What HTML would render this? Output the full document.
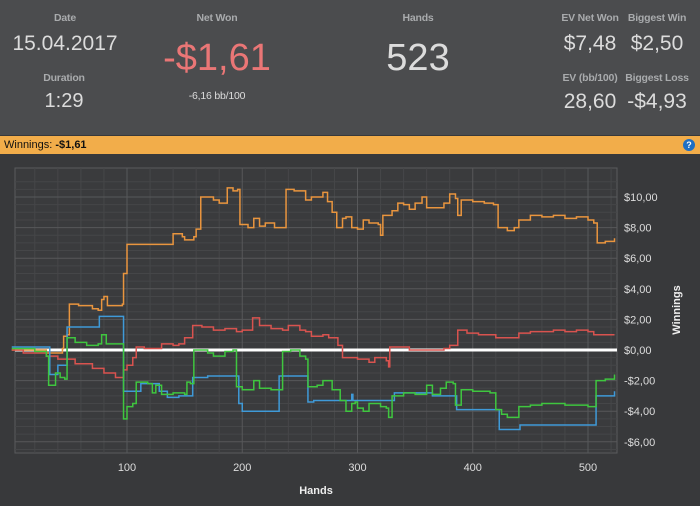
<!DOCTYPE html>
<html><head><meta charset="utf-8"><style>
body{margin:0;width:700px;height:506px;background:#38393b;font-family:"Liberation Sans",sans-serif;overflow:hidden;position:relative}
#hdr{position:absolute;left:0;top:0;width:700px;height:135px;background:#4b4c4e}
.l{position:absolute;color:#a9abad;font-size:10.5px;font-weight:bold;transform:translateX(-50%);white-space:nowrap;letter-spacing:-0.2px}
.v{position:absolute;color:#dcdcdc;font-size:21px;transform:translateX(-50%);white-space:nowrap}
#bar{position:absolute;left:0;top:136px;width:700px;height:18px;background:#f2ad4a;font-size:11px;color:#111;line-height:18px}
</style></head><body>
<div id="hdr">
<div class="l" style="left:65px;top:12px">Date</div>
<div class="v" style="left:65px;top:32px">15.04.2017</div>
<div class="l" style="left:64px;top:72px">Duration</div>
<div class="v" style="left:64px;top:90px;font-size:20px">1:29</div>
<div class="l" style="left:217px;top:12px">Net Won</div>
<div class="v" style="left:217px;top:37px;font-size:38px;color:#ea7676">-$1,61</div>
<div class="l" style="left:217px;top:90px;font-weight:normal;color:#ddd">-6,16 bb/100</div>
<div class="l" style="left:418px;top:12px">Hands</div>
<div class="v" style="left:418px;top:37px;font-size:38px">523</div>
<div class="l" style="left:590px;top:12px">EV Net Won</div>
<div class="v" style="left:590px;top:32px">$7,48</div>
<div class="l" style="left:657px;top:12px">Biggest Win</div>
<div class="v" style="left:657px;top:32px">$2,50</div>
<div class="l" style="left:590px;top:72px">EV (bb/100)</div>
<div class="v" style="left:590px;top:90px">28,60</div>
<div class="l" style="left:657px;top:72px">Biggest Loss</div>
<div class="v" style="left:657px;top:90px">-$4,93</div>
</div>
<div id="bar"><span style="margin-left:4px">Winnings: <b>-$1,61</b></span>
<span style="position:absolute;right:5px;top:3px;width:12px;height:12px;border-radius:50%;background:#1f6fc4;color:#fff;font-size:9px;line-height:12px;text-align:center;font-weight:bold">?</span></div>
<svg id="chart" width="700" height="506" style="position:absolute;left:0;top:0"></svg>
<script>
const orangeH=[0,30,44,45,48,50,58,70,75,78,80,83,96,97,100,140,148,150,158,160,164,175,180,187,192,196,198,205,210,215,220,228,236,238,245,255,260,270,274,278,282,287,290,295,300,305,310,318,320,322,330,335,340,345,350,356,360,370,375,380,385,387,390,400,410,418,422,430,436,440,450,460,470,480,490,500,505,508,515,523];
const orangeV=[0,-0.2,0.1,0.9,1,3.0,2.9,2.7,2.6,3.3,3.5,2.9,3.0,5,6.9,7.6,7.4,7.2,7.4,7.9,10,9.8,9.6,10.6,10.4,10.5,8.2,8.0,8.6,8.1,8.3,8.0,8.0,10.5,10.4,9.8,10.0,10.3,9.7,9.0,8.0,8.6,8.7,8.0,7.9,8.5,8.3,8.2,7.5,8.8,9.1,9.6,9.5,9.2,9.6,10.0,9.3,9.3,9.6,10.2,9.9,8.8,9.8,9.7,9.6,9.5,8.0,7.8,8.0,8.5,8.8,8.7,8.8,8.6,8.7,8.5,8.3,7.0,7.1,7.3];
const redH=[0,10,30,40,55,70,80,90,96,97,100,105,108,115,125,130,140,145,150,157,165,175,185,195,200,207,209,215,225,235,240,250,255,260,270,275,283,287,295,300,310,315,325,327,328,335,345,355,365,375,380,387,395,405,415,420,430,440,450,460,470,480,490,500,505,515,523];
const redV=[0,-0.2,-0.4,-0.6,-0.9,-1.2,-1.5,-1.8,-1.8,-1.3,-1.0,-0.5,0.2,0.1,0.1,0.4,0.3,0.4,0.8,1.6,1.5,1.3,1.4,1.2,1.3,1.3,2.1,1.6,1.4,1.3,1.6,1.3,1.2,0.9,1.0,0.8,0.3,-0.5,-0.5,-0.6,-0.8,-0.5,-0.7,-1.1,0.2,0.2,0.0,0.0,0.0,0.1,0.3,1.3,1.1,1.0,1.0,0.8,0.8,1.1,1.2,1.2,1.3,1.2,1.3,1.2,1.0,1.0,1.0];
const blueH=[0,30,33,40,48,76,96,97,110,112,120,128,135,145,155,157,170,195,197,200,230,232,255,257,262,290,295,296,330,332,362,365,385,386,420,423,440,441,505,507,520,523];
const blueV=[0.2,0.2,-1.6,-1.0,1.5,2.2,2.2,-2.7,-2.7,-2.2,-2.2,-2.7,-3.1,-3.0,-3.0,-1.8,-1.7,-1.7,-3.5,-4.0,-4.0,-1.7,-1.7,-3.4,-3.3,-3.3,-2.9,-3.3,-3.3,-2.8,-2.8,-3.0,-3.0,-3.9,-3.9,-5.2,-5.2,-4.9,-4.9,-3.0,-3.0,-2.7];
const greenH=[0,20,30,32,36,38,42,46,48,55,65,75,78,82,95,97,100,105,108,118,122,125,130,140,150,152,155,158,170,175,185,192,195,200,210,215,225,233,235,242,250,255,257,265,270,278,285,290,295,298,300,305,310,320,325,327,330,340,350,360,365,372,377,383,385,390,400,415,420,425,430,440,450,460,470,480,490,500,505,507,515,523];
const greenV=[0.1,-0.1,-0.4,-2.3,-2.3,-1.5,-1.8,-1.9,0.8,0.5,0.3,0.4,1.0,0.4,0.4,-4.5,-3.7,-3.5,-2.1,-2.2,-2.8,-2.3,-2.9,-2.8,-2.9,-2.1,-2.2,0.0,-0.2,-0.4,-0.1,0.0,-2.4,-2.6,-2.0,-2.5,-2.6,-2.6,-0.1,0.0,-0.4,-0.6,-2.4,-2.3,-2.0,-2.6,-3.3,-4.0,-3.5,-3.4,-3.8,-4.0,-3.5,-3.7,-3.8,-4.4,-3.0,-2.8,-2.9,-2.3,-2.9,-2.5,-2.1,-2.2,-3.6,-2.6,-2.7,-2.8,-3.9,-4.2,-4.4,-3.7,-3.6,-3.5,-3.5,-3.6,-3.6,-3.7,-3.7,-2.0,-1.9,-1.6];
const xTicks=[100,200,300,400,500];
const yTicks=[10,8,6,4,2,0,-2,-4,-6];
const yLabels=["$10,00","$8,00","$6,00","$4,00","$2,00","$0,00","-$2,00","-$4,00","-$6,00"];

const X=h=>11.75+h*1.1525, Y=v=>350-v*15.3;
const L=15,R=617,T=168,B=453;
const svg=document.getElementById('chart'),NS='http://www.w3.org/2000/svg';
function mk(t,a,p){const e=document.createElementNS(NS,t);for(const k in a)e.setAttribute(k,a[k]);(p||svg).appendChild(e);return e;}
const bg=mk('rect',{x:L,y:T,width:R-L,height:B-T,fill:'#3a3b3d',stroke:'#5a5b5d'});


for(let h=20;h<=520;h+=20){if(h%100)mk('line',{x1:X(h),x2:X(h),y1:T,y2:B,stroke:'#464749'});}
for(let v=-7;v<=11;v+=0.5){if(v%2&&Y(v)>T&&Y(v)<B)mk('line',{x1:L,x2:R,y1:Y(v),y2:Y(v),stroke:'#454648'});}
xTicks.forEach(h=>{mk('line',{x1:X(h),x2:X(h),y1:T,y2:B,stroke:'#57585a'});
const t=mk('text',{x:X(h),y:471,fill:'#ddd','font-size':11,'text-anchor':'middle'});t.textContent=h;

});
yTicks.forEach((v,i)=>{mk('line',{x1:L,x2:R,y1:Y(v),y2:Y(v),stroke:'#57585a'});
const t=mk('text',{x:624,y:Y(v)+4,fill:'#ddd','font-size':11});t.textContent=yLabels[i];

});
const zl=mk('line',{x1:L,x2:R,y1:Y(0),y2:Y(0),stroke:'#fff','stroke-width':3});


function series(H,V,c,n){const pts=[];H.forEach((h,i)=>{if(i>0)pts.push(X(h)+','+Y(V[i-1]));pts.push(X(h)+','+Y(V[i]));});
const p=mk('polyline',{points:pts.join(' '),fill:'none',stroke:c,'stroke-width':1.5});

}
series(orangeH,orangeV,'#e9953e','ev-winnings-line');
series(redH,redV,'#d9534f','red-line');
series(blueH,blueV,'#3f9ad8','blue-line');
series(greenH,greenV,'#3fc63f','green-line');
const xt=mk('text',{x:316,y:494,fill:'#eee','font-size':11,'font-weight':'bold','text-anchor':'middle'});xt.textContent='Hands';


const yt=mk('text',{x:680,y:310,fill:'#eee','font-size':11,'font-weight':'bold','text-anchor':'middle',transform:'rotate(-90 680 310)'});yt.textContent='Winnings';


</script>
</body></html>
